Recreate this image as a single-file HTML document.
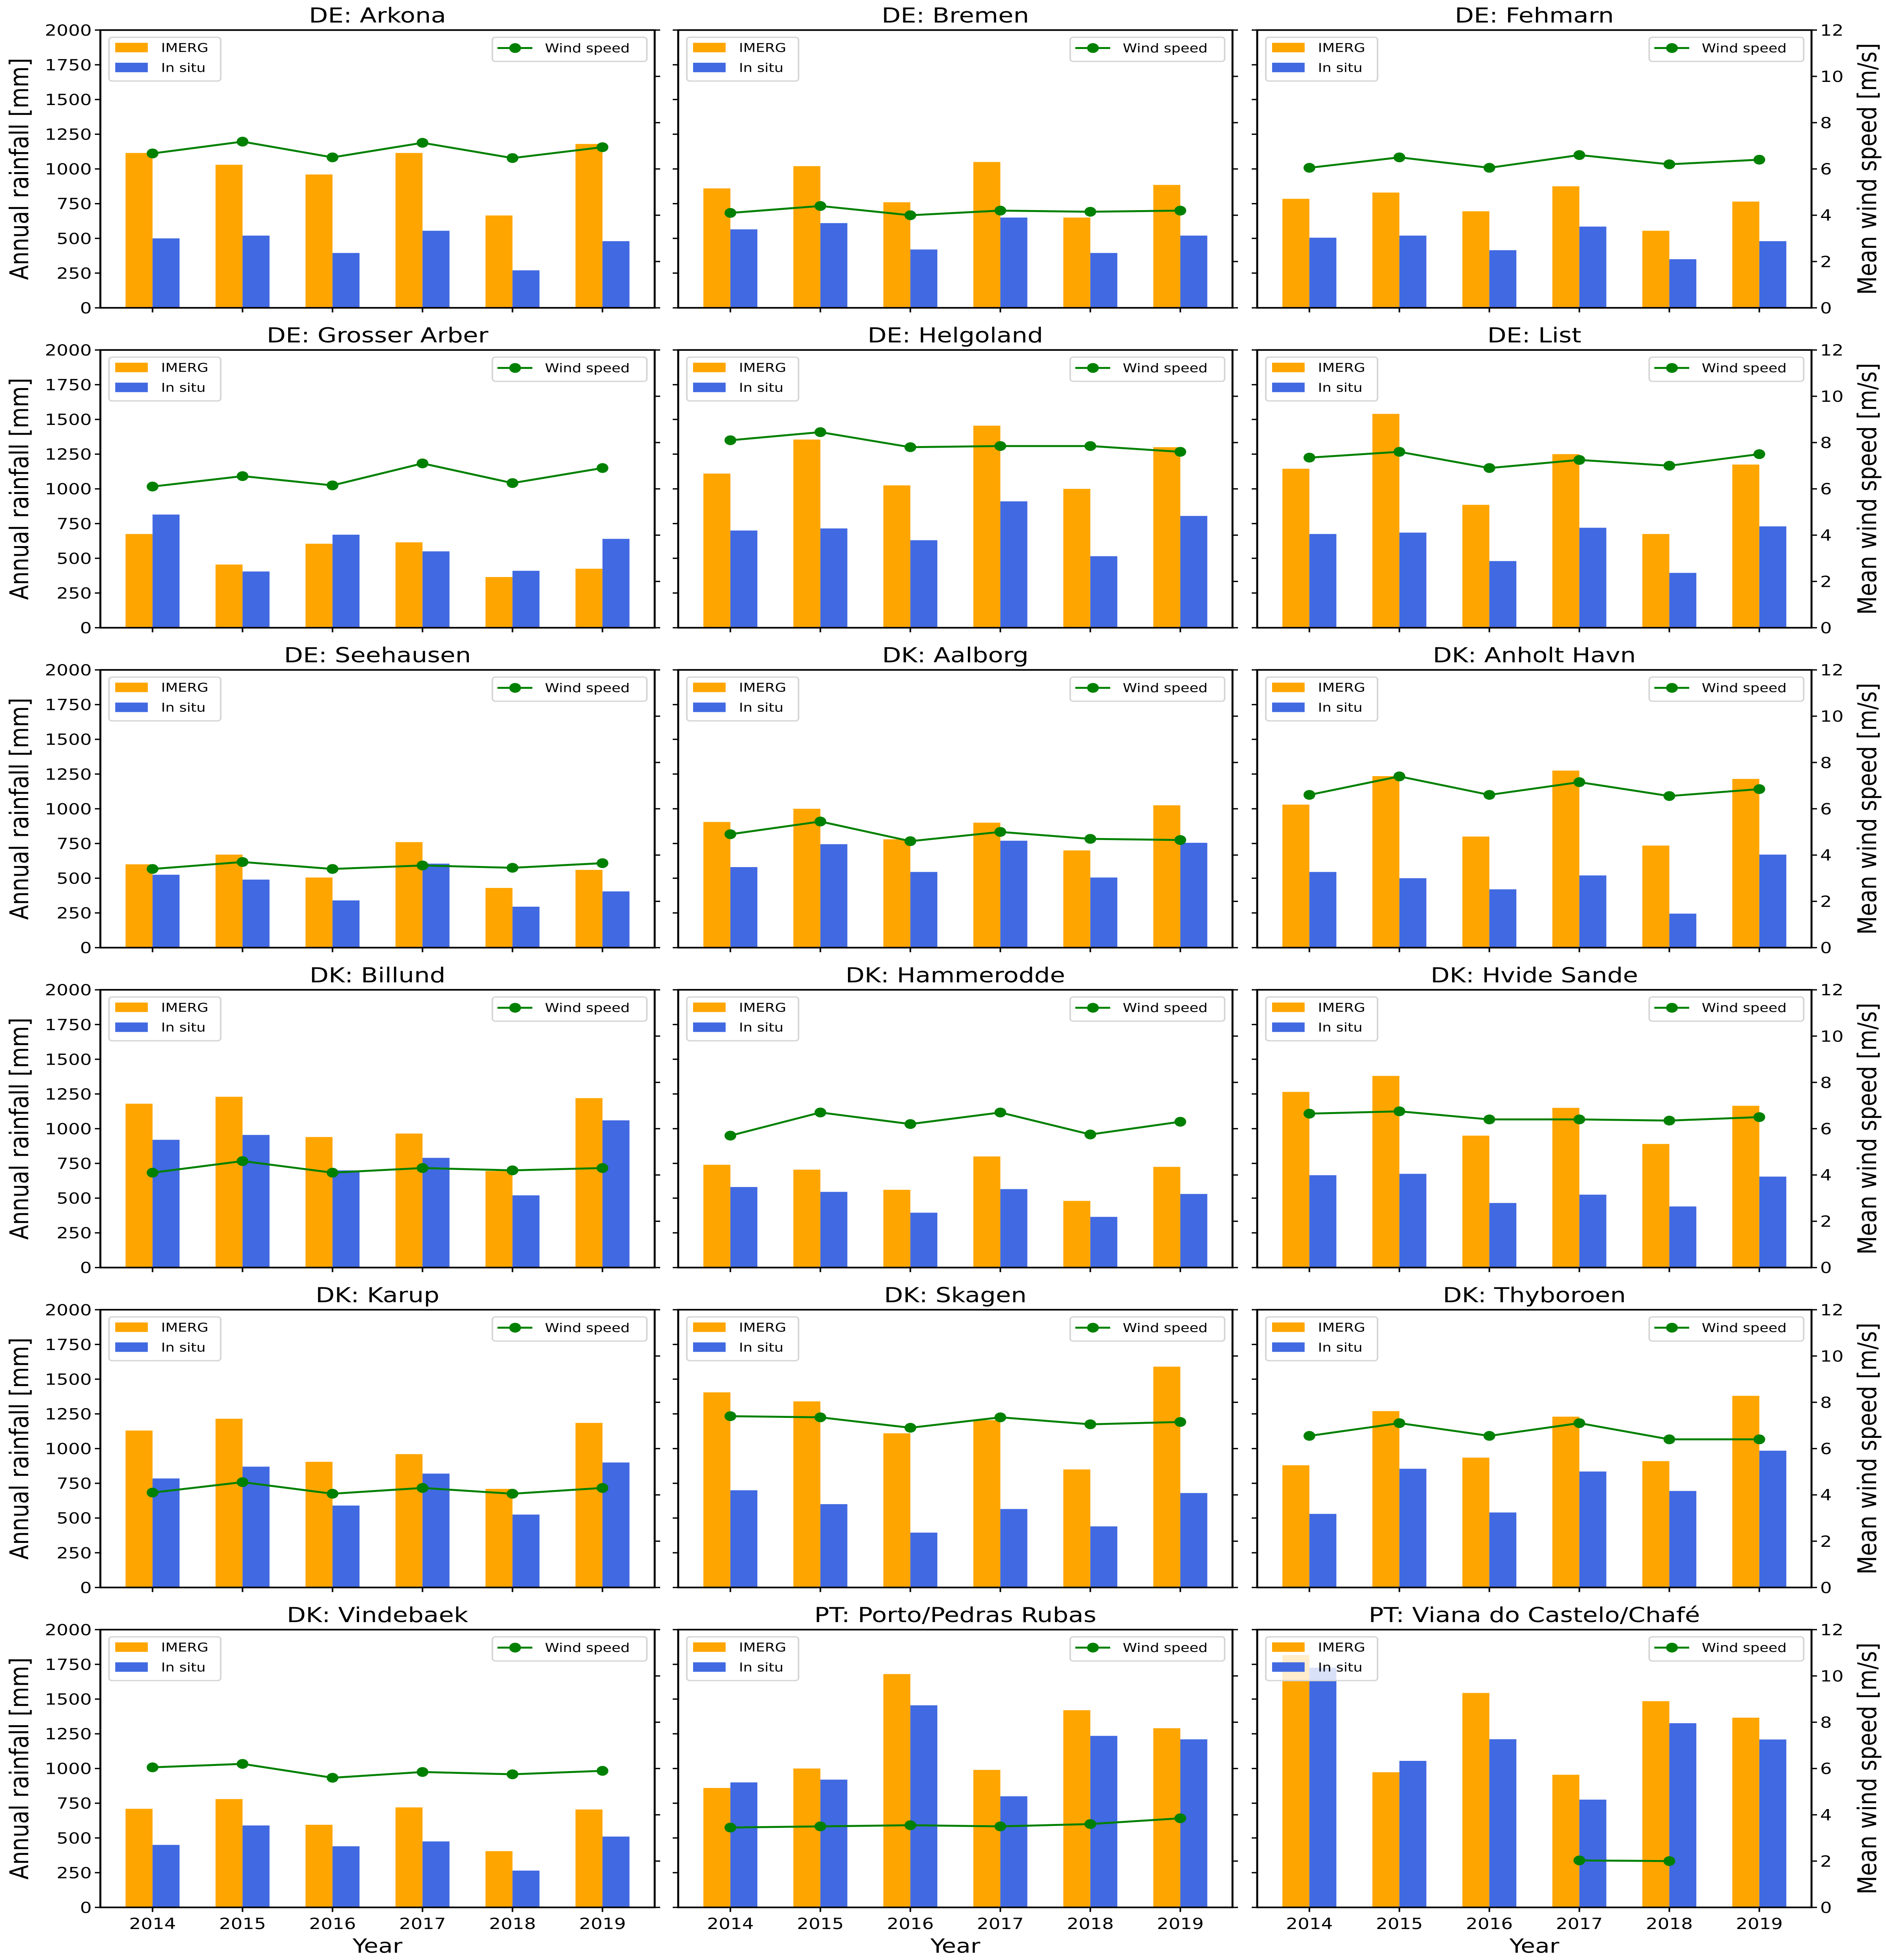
<!DOCTYPE html>
<html><head><meta charset="utf-8"><style>
html,body{margin:0;padding:0;background:#fff;overflow:hidden}
svg{display:block;width:100vw;height:100vh}
text{font-family:"DejaVu Sans","Liberation Sans",sans-serif;fill:#000}
</style></head><body>
<svg id="chart" viewBox="0 0 4811 5998" preserveAspectRatio="none" xmlns="http://www.w3.org/2000/svg"></svg>
<script>
const years = ["2014","2015","2016","2017","2018","2019"];
const stations = ["DE: Arkona","DE: Bremen","DE: Fehmarn","DE: Grosser Arber","DE: Helgoland","DE: List","DE: Seehausen","DK: Aalborg","DK: Anholt Havn","DK: Billund","DK: Hammerodde","DK: Hvide Sande","DK: Karup","DK: Skagen","DK: Thyboroen","DK: Vindebaek","PT: Porto/Pedras Rubas","PT: Viana do Castelo/Chafé"];
const imerg = [
 [1115,1030,960,1115,665,1180],[860,1020,760,1050,650,885],[785,830,695,875,555,765],
 [675,455,605,615,365,425],[1110,1355,1025,1455,1000,1300],[1145,1540,885,1250,675,1175],
 [600,670,505,760,430,560],[905,1000,780,900,700,1025],[1030,1235,800,1275,735,1215],
 [1180,1230,940,965,695,1220],[740,705,560,800,480,725],[1265,1380,950,1150,890,1165],
 [1130,1215,905,960,710,1185],[1405,1340,1110,1205,850,1590],[880,1270,935,1230,910,1380],
 [710,780,595,720,405,705],[860,1000,1680,990,1420,1290],[1817,973,1544,955,1485,1366]];
const insitu = [
 [500,520,395,555,270,480],[565,610,420,650,395,520],[505,520,415,585,350,480],
 [815,405,670,550,410,640],[700,715,630,910,515,805],[675,685,480,720,395,730],
 [525,490,340,605,295,405],[580,745,545,770,505,755],[545,500,420,520,245,670],
 [920,955,700,790,520,1060],[580,545,395,565,365,530],[665,675,465,525,440,655],
 [785,870,590,820,525,900],[700,600,395,565,440,680],[530,855,540,835,695,985],
 [450,590,440,475,265,510],[900,920,1455,800,1235,1210],[1726,1055,1211,776,1326,1209]];
const wind = [
 [6.67,7.18,6.5,7.13,6.47,6.94],[4.1,4.4,4.0,4.2,4.15,4.2],[6.05,6.5,6.05,6.6,6.2,6.4],
 [6.1,6.55,6.15,7.1,6.25,6.9],[8.1,8.45,7.8,7.85,7.85,7.6],[7.35,7.6,6.9,7.25,7.0,7.5],
 [3.4,3.7,3.4,3.55,3.45,3.65],[4.9,5.45,4.6,5.0,4.7,4.65],[6.6,7.4,6.6,7.15,6.55,6.85],
 [4.1,4.6,4.1,4.3,4.2,4.3],[5.7,6.7,6.2,6.7,5.75,6.3],[6.65,6.75,6.4,6.4,6.35,6.5],
 [4.1,4.55,4.05,4.3,4.05,4.3],[7.4,7.35,6.9,7.35,7.05,7.15],[6.55,7.1,6.55,7.1,6.4,6.4],
 [6.05,6.2,5.6,5.85,5.75,5.9],[3.45,3.5,3.55,3.5,3.6,3.85],[null,null,null,2.03,2.0,null]];
const rainTicks = [0,250,500,750,1000,1250,1500,1750,2000];
const windTicks = [0,2,4,6,8,10,12];

const NS="http://www.w3.org/2000/svg";
const svg=document.getElementById('chart');
function mk(tag,attrs,parent,text){const e=document.createElementNS(NS,tag);for(const k in attrs)e.setAttribute(k,attrs[k]);if(text!==undefined)e.textContent=text;(parent||svg).appendChild(e);return e;}
const colX=[256,1730,3207], rowY=[92,1071,2050,3029,4008,4987], W=1414, H=850;
const xmin=-0.58, xmax=5.58, barW=0.3;

stations.forEach((name,si)=>{
  const r=Math.floor(si/3), c=si%3, L=colX[c], T=rowY[r], B=T+H, R=L+W;
  const xs=v=>L+(v-xmin)/(xmax-xmin)*W;
  const yr=v=>B-v/2000*H;
  const yw=v=>B-v/12*H;
  const g=mk('g',{});
  
  
  const t=mk('text',{x:(L+R)/2,y:T-23,'text-anchor':'middle','font-size':63},g,name);
  
  
  years.forEach((y,i)=>{
    const b1=mk('rect',{x:xs(i-barW),y:yr(imerg[si][i]),width:xs(i)-xs(i-barW),height:B-yr(imerg[si][i]),fill:'#FFA500'},g);
    
    
    const b2=mk('rect',{x:xs(i),y:yr(insitu[si][i]),width:xs(i+barW)-xs(i),height:B-yr(insitu[si][i]),fill:'#4169E1'},g);
    
    
  });
  let d='',pen=false;
  wind[si].forEach((v,i)=>{ if(v===null){pen=false;return;} d+=(pen?'L':'M')+xs(i)+' '+yw(v)+' '; pen=true; });
  if(d){const p=mk('path',{d:d,fill:'none',stroke:'#008000','stroke-width':6},g);
    
    }
  wind[si].forEach((v,i)=>{ if(v===null)return;
    const m=mk('ellipse',{cx:xs(i),cy:yw(v),rx:15,ry:15,fill:'#008000'},g);
    
    
  });
  const sp=mk('rect',{x:L,y:T,width:W,height:H,fill:'none',stroke:'#000','stroke-width':5},g);
  
  
  rainTicks.forEach(v=>{
    mk('line',{x1:L-14,x2:L,y1:yr(v),y2:yr(v),stroke:'#000','stroke-width':4},g);
    if(c===0){const tl=mk('text',{x:L-22,y:yr(v)+17,'text-anchor':'end','font-size':47},g,String(v));
      
      }
  });
  windTicks.forEach(v=>{
    mk('line',{x1:R,x2:R+14,y1:yw(v),y2:yw(v),stroke:'#000','stroke-width':4},g);
    if(c===2){const tl=mk('text',{x:R+22,y:yw(v)+17,'text-anchor':'start','font-size':47},g,String(v));
      
      }
  });
  years.forEach((y,i)=>{
    mk('line',{x1:xs(i),x2:xs(i),y1:B,y2:B+14,stroke:'#000','stroke-width':4},g);
    if(r===5){const tl=mk('text',{x:xs(i),y:B+66,'text-anchor':'middle','font-size':47},g,y);
      
      }
  });
  if(r===5){const xl=mk('text',{x:(L+R)/2,y:B+139,'text-anchor':'middle','font-size':60},g,'Year');
    
    }
  if(c===0){const yl=mk('text',{x:0,y:0,'text-anchor':'middle','font-size':66,transform:`translate(72,${(T+B)/2}) rotate(-90)`},g,'Annual rainfall [mm]');
    
    }
  if(c===2){const yl=mk('text',{x:0,y:0,'text-anchor':'middle','font-size':66,transform:`translate(4786,${(T+B)/2}) rotate(-90)`},g,'Mean wind speed [m/s]');
    
    }
  const lg=mk('g',{},g);
  
  
  mk('rect',{x:L+22,y:T+22,width:285,height:134,rx:8,fill:'rgba(255,255,255,0.8)',stroke:'#d6d6d6','stroke-width':4},lg);
  mk('rect',{x:L+38,y:T+39,width:83,height:29,fill:'#FFA500'},lg);
  mk('rect',{x:L+38,y:T+100,width:83,height:29,fill:'#4169E1'},lg);
  const e1=mk('text',{x:L+155,y:T+67,'font-size':37},lg,'IMERG');
  
  
  const e2=mk('text',{x:L+155,y:T+128,'font-size':37},lg,'In situ');
  
  
  const lw=mk('g',{},g);
  
  
  mk('rect',{x:R-414,y:T+22,width:394,height:74,rx:8,fill:'rgba(255,255,255,0.8)',stroke:'#d6d6d6','stroke-width':4},lw);
  mk('line',{x1:R-401,x2:R-312,y1:T+55,y2:T+55,stroke:'#008000','stroke-width':6},lw);
  mk('ellipse',{cx:R-356,cy:T+55,rx:15,ry:15,fill:'#008000'},lw);
  const e3=mk('text',{x:R-280,y:T+68,'font-size':37},lw,'Wind speed');
  
  
});
</script>
</body></html>
